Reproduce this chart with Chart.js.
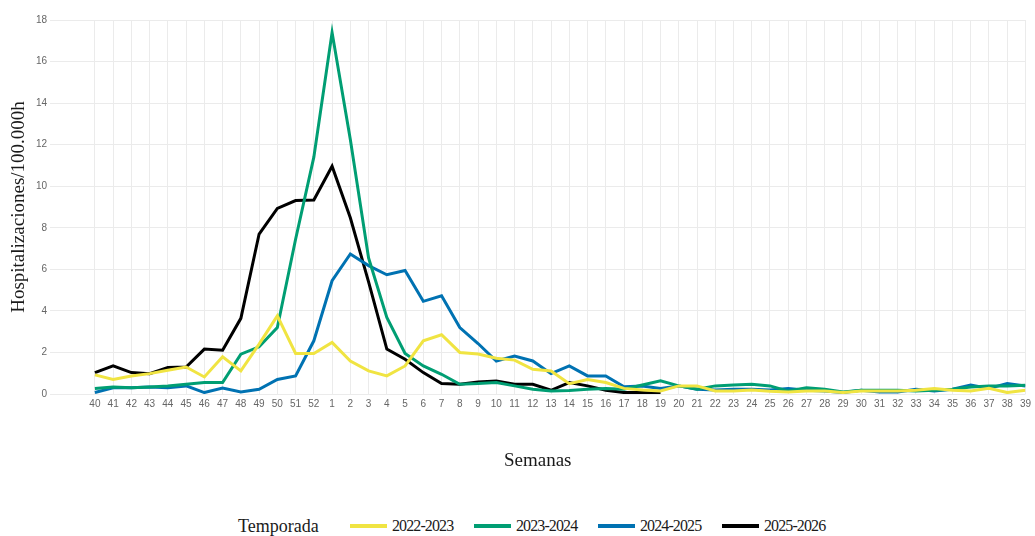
<!DOCTYPE html>
<html>
<head>
<meta charset="utf-8">
<script src="https://cdn.jsdelivr.net/npm/chart.js@4"></script>
<style>
  body { margin: 0; background: #fff; width: 1035px; height: 536px; overflow: hidden; position: relative; font-family: "Liberation Serif", serif; }
  #wrap { position: absolute; left: 0; top: 0; width: 1035px; height: 476px; }
  #legend { position: absolute; left: 238px; top: 515px; display: flex; align-items: center; height: 22px; color: #1a1a1a; }
  #legend .title { font-size: 18px; width: 112px; }
  #legend .item { display: flex; align-items: center; width: 124px; }
  #legend .sw { width: 37px; height: 4px; margin-right: 5px; }
  #legend .lab { font-size: 16px; letter-spacing: -0.9px; }
</style>
</head>
<body>
<div id="wrap"><canvas id="chart" width="1035" height="476"></canvas></div>
<div id="legend"></div>
<script>
// Epidemiological weeks, 40 to 39
const weeks = [40, 41, 42, 43, 44, 45, 46, 47, 48, 49, 50, 51, 52,
  1, 2, 3, 4, 5, 6, 7, 8, 9, 10, 11, 12, 13, 14, 15, 16, 17, 18, 19, 20,
  21, 22, 23, 24, 25, 26, 27, 28, 29, 30, 31, 32, 33, 34, 35, 36, 37, 38, 39];

const seasons = ["2022-2023", "2023-2024", "2024-2025", "2025-2026"];
const colors = ["#F0E442", "#009E73", "#0072B2", "#000000"];

const s2022 = [0.92, 0.70, 0.87, 0.98, 1.14, 1.30, 0.82, 1.79, 1.11, 2.40, 3.76, 1.95, 1.95,
  2.48, 1.59, 1.11, 0.87, 1.35, 2.56, 2.85, 2.00, 1.92, 1.72, 1.63, 1.19, 1.11, 0.50, 0.70, 0.55,
  0.27, 0.19, 0.15, 0.39, 0.39, 0.15, 0.15, 0.19, 0.13, 0.10, 0.14, 0.14, 0.07, 0.14, 0.14, 0.14,
  0.18, 0.27, 0.18, 0.14, 0.27, 0.07, 0.18];
const s2023 = [0.26, 0.34, 0.30, 0.34, 0.39, 0.47, 0.55, 0.55, 1.92, 2.27, 3.20, 7.45, 11.40,
  17.40, 12.25, 6.55, 3.68, 1.95, 1.35, 0.95, 0.47, 0.50, 0.55, 0.39, 0.23, 0.15, 0.17, 0.23, 0.27,
  0.23, 0.43, 0.63, 0.39, 0.23, 0.39, 0.43, 0.47, 0.39, 0.14, 0.30, 0.23, 0.10, 0.18, 0.18, 0.18,
  0.14, 0.18, 0.23, 0.34, 0.39, 0.39, 0.42];
const s2024 = [0.07, 0.30, 0.30, 0.34, 0.30, 0.39, 0.07, 0.29, 0.10, 0.23, 0.70, 0.87, 2.56,
  5.45, 6.74, 6.18, 5.74, 5.94, 4.46, 4.73, 3.20, 2.43, 1.59, 1.83, 1.59, 0.98, 1.35, 0.87, 0.87,
  0.35, 0.39, 0.27, 0.39, 0.23, 0.19, 0.23, 0.23, 0.19, 0.27, 0.18, 0.14, 0.07, 0.18, 0.10, 0.10,
  0.23, 0.14, 0.23, 0.43, 0.27, 0.51, 0.39];
const s2025 = [1.03, 1.35, 1.03, 0.98, 1.27, 1.30, 2.16, 2.11, 3.64, 7.70, 8.93, 9.31, 9.34,
  10.96, 8.48, 5.40, 2.16, 1.67, 1.03, 0.50, 0.47, 0.58, 0.63, 0.47, 0.47, 0.18, 0.55, 0.39, 0.18,
  0.07, 0.07, 0.04];

const yTicks = [0, 2, 4, 6, 8, 10, 12, 14, 16, 18];
const allSeries = [s2022, s2023, s2024, s2025];

const datasets = allSeries.map((vals, k) => ({
  label: seasons[k],
  data: vals.map((v, i) => ({ x: i, y: v })),
  borderColor: colors[k],
  backgroundColor: colors[k],
  borderWidth: 3,
  pointRadius: 0,
  tension: 0,
  fill: false
}));

// HTML legend
const legend = document.getElementById("legend");
legend.innerHTML = '<span class="title">Temporada</span>' + seasons.map((s, k) =>
  `<span class="item"><span class="sw" style="background:${colors[k]}"></span><span class="lab">${s}</span></span>`).join("");

const tickFont = { family: "Liberation Sans", size: 10 };
const gridColor = "#ebebeb";

new Chart(document.getElementById("chart"), {
  type: "line",
  data: { datasets },
  options: {
    responsive: false,
    animation: false,
    devicePixelRatio: 1,
    layout: { padding: { left: 4, right: 7, top: 20, bottom: 0 } },
    plugins: { legend: { display: false }, tooltip: { enabled: false } },
    scales: {
      x: {
        type: "linear",
        min: -2.46,
        max: weeks.length - 1,
        afterFit: (s) => { s.height = 82; },
        border: { display: false },
        grid: {
          drawTicks: false,
          color: (c) => (c.tick && c.tick.value < 0 ? "rgba(0,0,0,0)" : gridColor)
        },
        ticks: {
          stepSize: 1,
          includeBounds: false,
          autoSkip: false,
          maxRotation: 0,
          padding: 4,
          color: "#666",
          font: tickFont,
          callback: (v) => (v >= 0 && Number.isInteger(v) ? String(weeks[v]) : "")
        },
        title: {
          display: true,
          text: "Semanas",
          color: "#1a1a1a",
          font: { family: "Liberation Serif", size: 19 }
        }
      },
      y: {
        min: 0,
        max: 18,
        afterFit: (s) => { s.width = 46; },
        afterBuildTicks: (s) => { s.ticks = yTicks.map((v) => ({ value: v })); },
        border: { display: false },
        grid: { drawTicks: false, color: gridColor },
        ticks: { padding: 3, color: "#666", font: tickFont },
        title: {
          display: true,
          text: "Hospitalizaciones/100.000h",
          color: "#1a1a1a",
          font: { family: "Liberation Serif", size: 19 }
        }
      }
    }
  }
});
</script>
</body>
</html>
